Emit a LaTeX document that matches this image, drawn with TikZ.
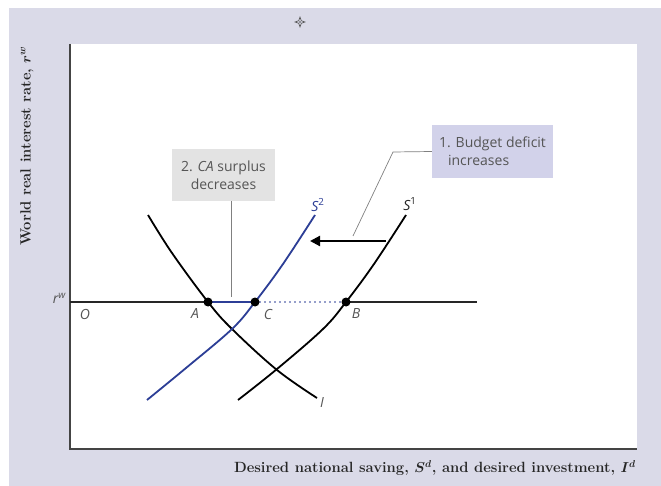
\documentclass[tikz,border=0pt]{standalone}
\usepackage{amsmath}
\usepackage{bm}
\usepackage{fontspec}
\newfontfamily\lblfont{Open Sans}
\usetikzlibrary{arrows.meta}
\definecolor{lav}{HTML}{DADAE8}
\definecolor{boxlav}{HTML}{D2D2EA}
\definecolor{boxgray}{HTML}{E3E3E3}
\definecolor{txtgray}{HTML}{555555}
\definecolor{curveblue}{HTML}{2C3E96}
\definecolor{axisgray}{HTML}{444444}
\tikzset{
  curve/.style={line width=1.8pt},
  dot/.style={circle,fill=black,inner sep=0pt,minimum size=9pt},
  ptlabel/.style={font=\lblfont\itshape\fontsize{14}{16}\selectfont,text=txtgray,inner sep=0pt},
  note/.style={font=\lblfont\fontsize{14}{18}\selectfont,text=txtgray,align=left,inner sep=0pt},
  leader/.style={draw=gray,line width=0.7pt},
  axlabel/.style={font=\bfseries\fontsize{14.8}{16}\selectfont,text=black!85,inner sep=0pt}
}
\begin{document}
\begin{tikzpicture}[x=1pt,y=-1pt]
\useasboundingbox (0,0) rectangle (661,486);
\fill[white] (0,0) rectangle (661,486);
\fill[lav] (9,8) rectangle (661,486);
\fill[white] (70,44) rectangle (637,449);
% star
\draw[black!70,line width=0.6pt] (300,17) -- (301.3,20.7) -- (305,22) -- (301.3,23.3) -- (300,27) -- (298.7,23.3) -- (295,22) -- (298.7,20.7) -- cycle;
\fill[black!70] (300,22) circle (0.8pt);
% axes
\draw[axisgray,line width=1.8pt] (70,44) -- (70,449) -- (637,449);
\node[axlabel,rotate=90] (ylab) at (27,146) {World real interest rate, $\bm{r^w}$};
\node[axlabel,anchor=east] (xlab) at (636,468) {Desired national saving, $\bm{S^d}$, and desired investment, $\bm{I^d}$};
% point positions
\coordinate (pA) at (208,302);
\coordinate (pC) at (255,302);
\coordinate (pB) at (346,302);
% r^w line
\coordinate (rl) at (70,302);
\coordinate (rr) at (477,302);
\draw[black!85,line width=1.3pt] (rl) -- (pA);
\draw[black!85,line width=1.3pt] (pB) -- (rr);
\node[ptlabel,anchor=east] (rw) at (66,298) {r\textsuperscript{w}};
\node[ptlabel] (O) at (85,314) {O};
% curves
\draw[curve,black] plot[smooth,tension=0.6] coordinates {(148,215) (172,253) (208,302) (232,329) (277,370) (317,398)};
\draw[curve,curveblue] plot[smooth,tension=0.6] coordinates {(147,400) (186,368) (232,329) (255,302) (283,264) (315,215)};
\draw[curve,black] plot[smooth,tension=0.6] coordinates {(238,400) (277,369) (323,329) (346,302) (374,264) (406,215)};
\node[ptlabel] (Ilab) at (322,403) {I};
\node[ptlabel,text=curveblue] (S2) at (318,205) {S\textsuperscript{\upshape 2}};
\node[ptlabel,text=black!85] (S1) at (410,204) {S\textsuperscript{\upshape 1}};
% blue segments
\draw[curveblue,line width=1.4pt] (pA) -- (pC);
\draw[curveblue,line width=1.8pt,line cap=round,dash pattern=on 0pt off 5pt] (pC) -- (pB);
% points
\node[dot] (A) at (pA) {};
\node[dot] (C) at (pC) {};
\node[dot] (B) at (pB) {};
\node[ptlabel] (Alab) at (195,314) {A};
\node[ptlabel] (Clab) at (268,314) {C};
\node[ptlabel] (Blab) at (356,314) {B};
% arrow
\coordinate (arS) at (386,241);
\coordinate (arE) at (310,241);
\draw[line width=2.2pt,-{Triangle[length=10pt,width=10pt]}] (arS) -- (arE);
% box 2
\node[fill=boxgray,minimum width=103pt,minimum height=52pt,inner sep=0pt] (box2) at (223.5,175) {};
\node[note,align=center] (t2) at (box2) {2. \textit{CA} surplus\\decreases};
\coordinate (l2) at (231,297);
\draw[leader] (box2.south -| l2) -- (l2);
% box 1
\node[fill=boxlav,minimum width=121pt,minimum height=53pt,inner sep=0pt] (box1) at (492.5,151.5) {};
\node[note] (t1) at (box1) {1. Budget deficit\\\hspace*{9pt}increases};
\coordinate (k1) at (393,152);
\coordinate (k2) at (353,236);
\draw[leader] (box1.west) -- (k1) -- (k2);
\end{tikzpicture}
\end{document}
